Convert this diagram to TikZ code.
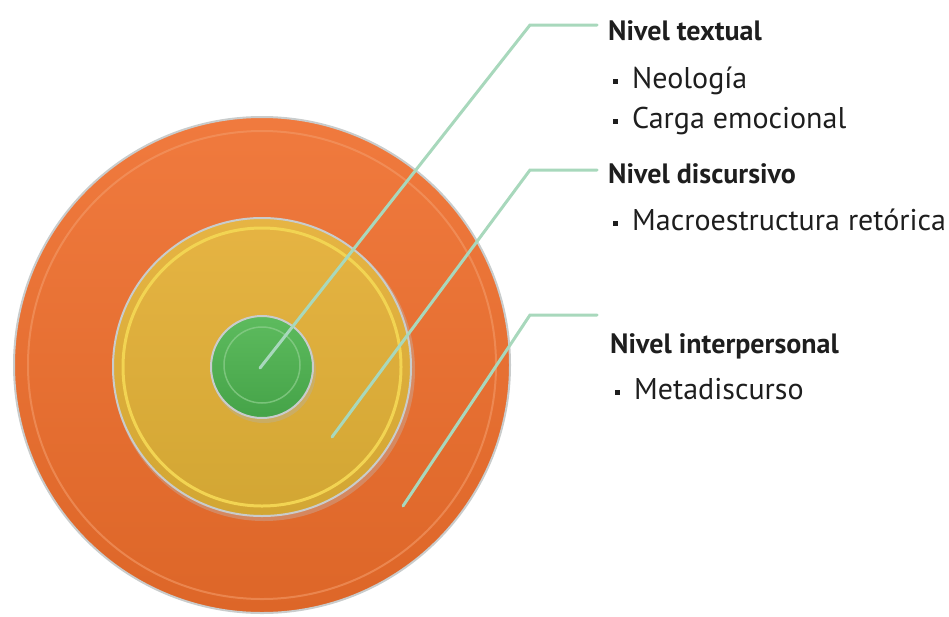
\documentclass[tikz,border=0pt]{standalone}
\usepackage{fontspec}
\setmainfont{PT Sans}
\definecolor{orTop}{HTML}{F07A3E}
\definecolor{orBot}{HTML}{DD6628}
\definecolor{orRim}{HTML}{F39A68}
\definecolor{yeTop}{HTML}{E6B443}
\definecolor{yeBot}{HTML}{D2A633}
\definecolor{yeRim}{HTML}{F2D452}
\definecolor{grTop}{HTML}{5DBB5E}
\definecolor{grBot}{HTML}{45A348}
\definecolor{rim}{HTML}{C9CCCC}
\definecolor{lead}{HTML}{A8D8BC}
\definecolor{txt}{HTML}{1E1E1E}
\tikzset{
  disc/.style={circle, inner sep=0pt, draw=rim, line width=2pt},
  leader/.style={draw=lead, line width=3pt, line cap=round},
  head/.style={anchor=base west, inner sep=0pt, font=\fontsize{28}{32}\selectfont\bfseries, text=txt},
  item/.style={anchor=base west, inner sep=0pt, font=\fontsize{30}{34}\selectfont, text=txt},
  bul/.style={fill=txt, minimum size=5pt, inner sep=0pt}
}
\begin{document}
\begin{tikzpicture}[x=1pt,y=-1pt]
\useasboundingbox (0,0) rectangle (949,616);
% outer disc
\node[disc, minimum size=496pt, top color=orTop, bottom color=orBot] (outer) at (262,365) {};
\draw[orRim, line width=2pt, opacity=0.6] (262,365) circle (234);
% middle disc
\fill[black!25, opacity=0.35] (264,370) circle (151);
\node[disc, minimum size=298pt, top color=yeTop, bottom color=yeBot] (middle) at (262,367) {};
\draw[yeRim, line width=3pt] (262,367) circle (139);
% inner disc
\fill[black!30, opacity=0.35] (264,371) circle (52);
\node[disc, minimum size=102pt, top color=grTop, bottom color=grBot] (inner) at (262,367) {};
\draw[grTop!70!white, line width=1.5pt, opacity=0.7] (262,365) circle (38);
% leader coordinates
\coordinate (s1) at (260,368);
\coordinate (b1) at (530,25);
\coordinate (e1) at (597,25);
\coordinate (s2) at (332,437);
\coordinate (b2) at (530,170);
\coordinate (e2) at (597,170);
\coordinate (s3) at (403,506);
\coordinate (b3) at (530,315);
\coordinate (e3) at (597,315);
\draw[leader] (s1) -- (b1) -- (e1);
\draw[leader] (s2) -- (b2) -- (e2);
\draw[leader] (s3) -- (b3) -- (e3);
% texts
\node[head] (h1) at (608,40) {Nivel textual};
\node[bul] (p1) at (615.5,81) {};
\node[item] (t1) at (632,88) {Neología};
\node[bul] (p2) at (615.5,121) {};
\node[item] (t2) at (632,128) {Carga emocional};
\node[head] (h2) at (608,183) {Nivel discursivo};
\node[bul] (p3) at (615.5,223) {};
\node[item] (t3) at (632,230) {Macroestructura retórica};
\node[head] (h3) at (610,353) {Nivel interpersonal};
\node[bul] (p4) at (617.5,392) {};
\node[item] (t4) at (634,399) {Metadiscurso};
\end{tikzpicture}
\end{document}
